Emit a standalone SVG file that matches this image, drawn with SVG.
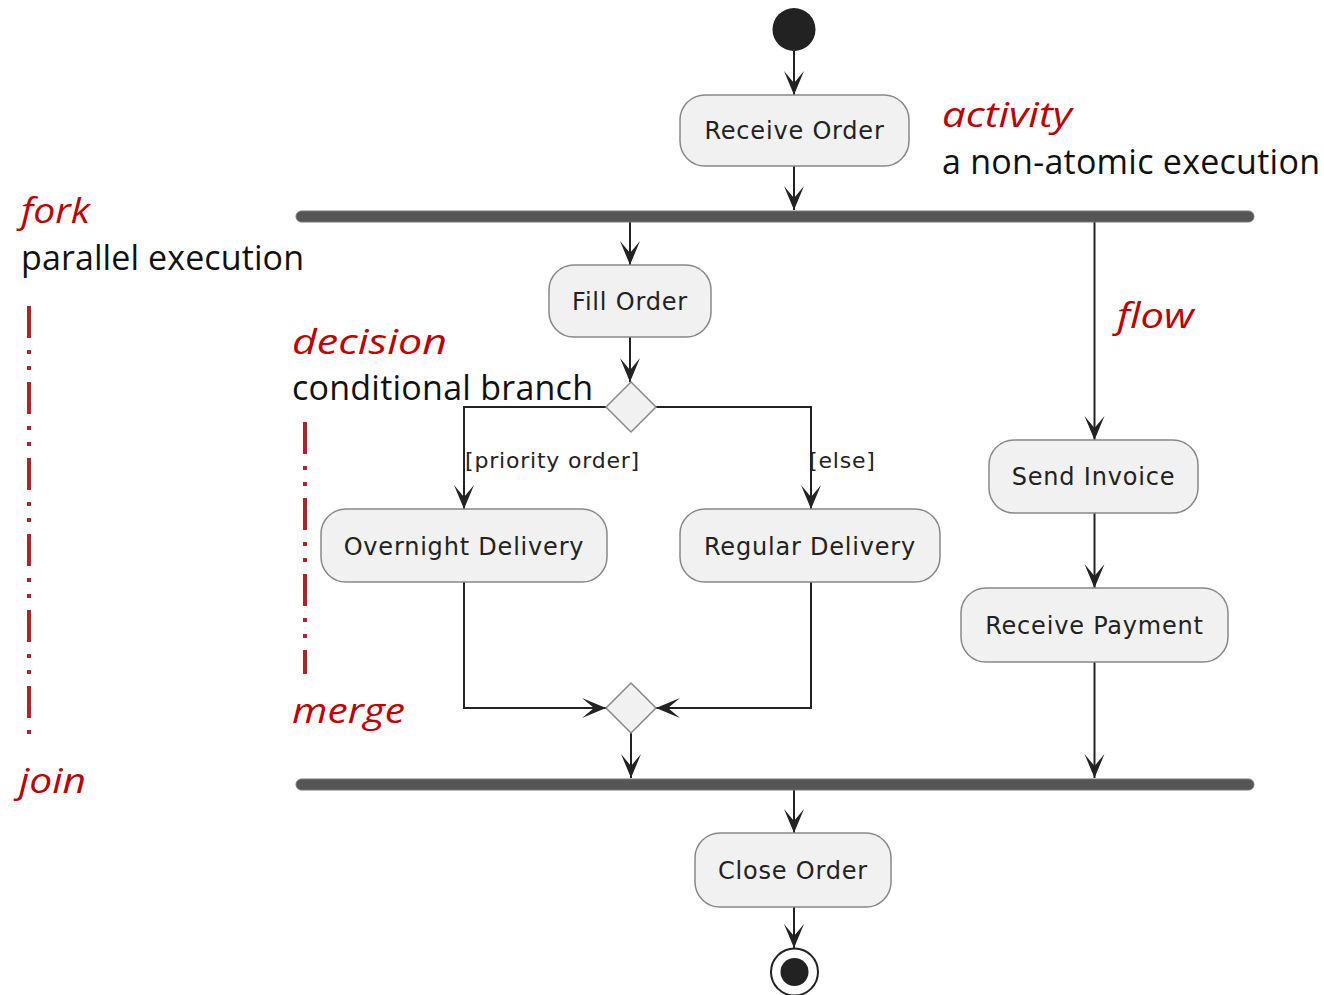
<svg xmlns="http://www.w3.org/2000/svg" width="1324" height="995" viewBox="0 0 1324 995">
  <style>
    .box { fill: #F1F1F1; stroke: #888888; stroke-width: 1.5; }
    .lbl { font-family: "DejaVu Sans", sans-serif; font-size: 24px; letter-spacing: 0.8px; fill: #222222; text-anchor: middle; }
    .guard { font-family: "DejaVu Sans", sans-serif; font-size: 22px; letter-spacing: 0.8px; fill: #222222; }
    .bar { fill: #555555; stroke: #777777; stroke-width: 1; }
    .edge { fill: none; stroke: #222222; stroke-width: 2; marker-end: url(#arrow); }
    .title { font-family: "Open Sans", "Noto Sans", sans-serif; font-style: italic; font-size: 35px; fill: #C00000; }
    .sub { font-family: "Open Sans", "Noto Sans", sans-serif; font-size: 34px; fill: #111111; }
    .guide { fill: none; stroke: #B22226; stroke-width: 4; stroke-dasharray: 32 12 4 12 4 12; }
  </style>
  <defs>
    <marker id="arrow" viewBox="-25 -11 26 22" refX="0" refY="0" markerWidth="26" markerHeight="22" markerUnits="userSpaceOnUse" orient="auto">
      <path d="M0,0 L-24,-10 L-12,0 L-24,10 Z" fill="#222222"/>
    </marker>
  </defs>

  <!-- connectors -->
  <g id="edges">
    <path class="edge" d="M794,51 V95"/>
    <path class="edge" d="M794,166 V210"/>
    <path class="edge" d="M630,222 V265"/>
    <path class="edge" d="M630,337 V382"/>
    <path class="edge" d="M606,407 H464 V509"/>
    <path class="edge" d="M656,407 H811 V509"/>
    <path class="edge" d="M464,582 V708 H606"/>
    <path class="edge" d="M811,582 V708 H656"/>
    <path class="edge" d="M631,733 V778"/>
    <path class="edge" d="M1094.5,222 V440"/>
    <path class="edge" d="M1094.5,513 V588"/>
    <path class="edge" d="M1094.5,662 V778"/>
    <path class="edge" d="M794,790 V833"/>
    <path class="edge" d="M794,907 V948"/>
    <text class="guard" x="465" y="468">[priority order]</text>
    <text class="guard" x="809" y="468">[else]</text>
  </g>

  <!-- nodes -->
  <g id="start"><circle cx="794" cy="29.5" r="21.5" fill="#222222"/></g>
  <g id="receive-order">
    <rect class="box" x="680" y="95" width="229" height="71" rx="25"/>
    <text class="lbl" x="794.5" y="139">Receive Order</text>
  </g>
  <g id="fork"><rect class="bar" x="296" y="211" width="958" height="11" rx="5.5"/></g>
  <g id="fill-order">
    <rect class="box" x="549" y="265" width="162" height="72" rx="25"/>
    <text class="lbl" x="630" y="310">Fill Order</text>
  </g>
  <g id="decision"><path class="box" d="M631,382 L656,407 L631,432 L606,407 Z"/></g>
  <g id="overnight-delivery">
    <rect class="box" x="321" y="509" width="286" height="73" rx="25"/>
    <text class="lbl" x="464" y="555">Overnight Delivery</text>
  </g>
  <g id="regular-delivery">
    <rect class="box" x="680" y="509" width="260" height="73" rx="25"/>
    <text class="lbl" x="810" y="555">Regular Delivery</text>
  </g>
  <g id="send-invoice">
    <rect class="box" x="989" y="440" width="209" height="73" rx="25"/>
    <text class="lbl" x="1093.5" y="485">Send Invoice</text>
  </g>
  <g id="receive-payment">
    <rect class="box" x="961" y="588" width="267" height="74" rx="25"/>
    <text class="lbl" x="1094.5" y="634">Receive Payment</text>
  </g>
  <g id="merge"><path class="box" d="M631,683 L656,708 L631,733 L606,708 Z"/></g>
  <g id="join"><rect class="bar" x="296" y="779" width="958" height="11" rx="5.5"/></g>
  <g id="close-order">
    <rect class="box" x="695" y="833" width="196" height="74" rx="25"/>
    <text class="lbl" x="793" y="879">Close Order</text>
  </g>
  <g id="end">
    <circle cx="794.5" cy="972" r="23.5" fill="#FFFFFF" stroke="#222222" stroke-width="2"/>
    <circle cx="794.5" cy="972" r="14" fill="#222222"/>
  </g>

  <!-- annotations -->
  <g id="notes">
    <text class="title" x="942" y="127" textLength="130" lengthAdjust="spacingAndGlyphs">activity</text>
    <text class="sub" x="942" y="174" textLength="378">a non-atomic execution</text>
    <text class="title" x="21" y="223" textLength="69" lengthAdjust="spacingAndGlyphs">fork</text>
    <text class="sub" x="21" y="270" textLength="283">parallel execution</text>
    <text class="title" x="292" y="354" textLength="155" lengthAdjust="spacingAndGlyphs">decision</text>
    <text class="sub" x="292" y="400" textLength="301">conditional branch</text>
    <text class="title" x="1117" y="328" textLength="77" lengthAdjust="spacingAndGlyphs">flow</text>
    <text class="title" x="292" y="723" textLength="113" lengthAdjust="spacingAndGlyphs">merge</text>
    <text class="title" x="19" y="793" textLength="67" lengthAdjust="spacingAndGlyphs">join</text>
    <path class="guide" d="M29,306 V734"/>
    <path class="guide" d="M305,422 V674"/>
  </g>
</svg>
